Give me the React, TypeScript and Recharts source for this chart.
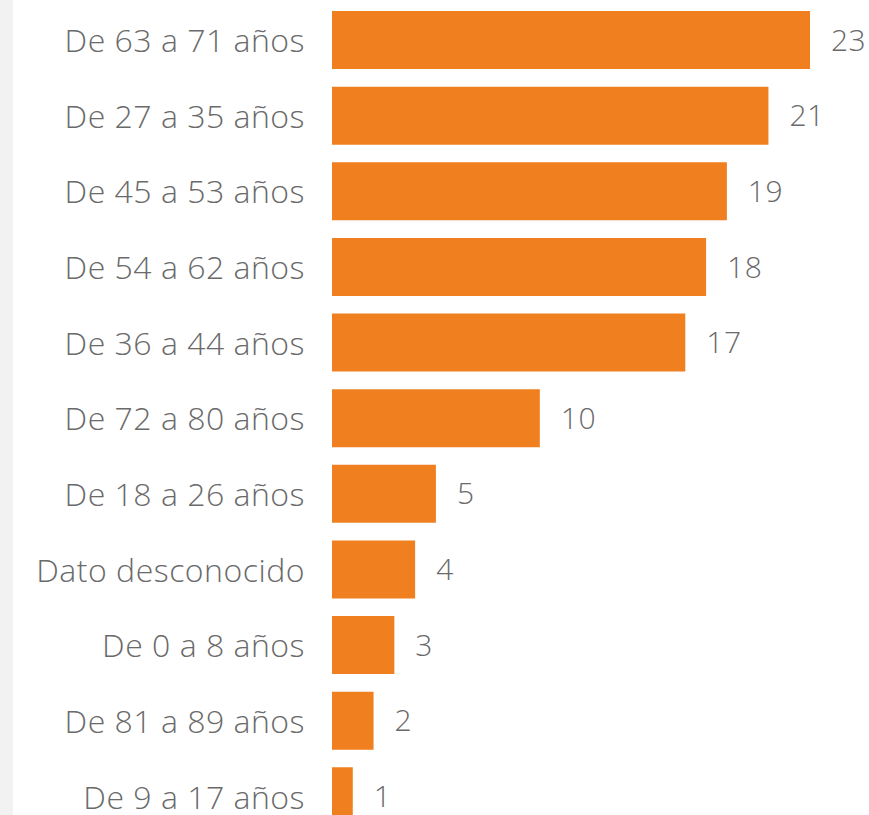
import { BarChart, Bar, XAxis, YAxis, LabelList } from 'recharts';

const categories = [
  'De 63 a 71 años',
  'De 27 a 35 años',
  'De 45 a 53 años',
  'De 54 a 62 años',
  'De 36 a 44 años',
  'De 72 a 80 años',
  'De 18 a 26 años',
  'Dato desconocido',
  'De 0 a 8 años',
  'De 81 a 89 años',
  'De 9 a 17 años',
];
const counts = [23, 21, 19, 18, 17, 10, 5, 4, 3, 2, 1];

const data = categories.map((name, i) => ({ name, value: counts[i] }));

const FONT = '"Open Sans", "Noto Sans", sans-serif';

export default function App() {
  return (
    <div
      style={{
        position: 'fixed',
        top: 0,
        left: 0,
        width: 869,
        height: 815,
        overflow: 'hidden',
        background: '#ffffff',
      }}
    >
      <div style={{ position: 'absolute', left: 0, top: 0, width: 13, height: 815, background: '#f2f2f2' }} />
      <div style={{ position: 'absolute', left: 0, top: 2 }}>
        <BarChart
          layout="vertical"
          width={869}
          height={832}
          data={data}
          margin={{ top: 0, right: 59, bottom: 0, left: 0 }}
          barSize={58}
        >
          <XAxis type="number" domain={[0, 23]} hide />
          <YAxis
            type="category"
            dataKey="name"
            width={332}
            axisLine={false}
            tickLine={false}
            tickMargin={21}
            interval={0}
            tick={{ fill: '#6a6a6a', fontSize: 32, fontFamily: FONT, fontWeight: 300, letterSpacing: 0.5, dy: 1 }}
          />
          <Bar dataKey="value" fill="#f0801f" isAnimationActive={false}>
            <LabelList
              dataKey="value"
              position="right"
              offset={21}
              fill="#6a6a6a"
              fontSize={30}
              fontFamily={FONT}
              fontWeight={300}
              letterSpacing={0.5}
            />
          </Bar>
        </BarChart>
      </div>
    </div>
  );
}
